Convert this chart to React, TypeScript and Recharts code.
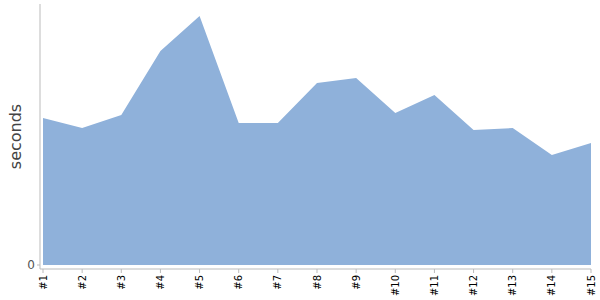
import React from 'react';
import { AreaChart, Area, XAxis, YAxis } from 'recharts';

const RUNS = ['#1', '#2', '#3', '#4', '#5', '#6', '#7', '#8', '#9', '#10', '#11', '#12', '#13', '#14', '#15'];
const SECONDS = [147, 137, 150, 214, 249, 142, 142, 182, 187, 152, 170, 135, 137, 110, 122];
const Y_TICKS = [0];

const data = RUNS.map((run, i) => ({ run, seconds: SECONDS[i] }));

const RunTick = ({ x, y, payload }: any) => (
  <g transform={`translate(${x},${y})`}>
    <text
      transform="rotate(-90)"
      textAnchor="end"
      dy="0.35em"
      fontSize={10}
      fill="#000"
      fontFamily="DejaVu Sans, sans-serif"
    >
      {payload.value}
    </text>
  </g>
);

export default function App() {
  return (
    <div style={{ position: 'absolute', left: 0, top: 0, width: 600, height: 300, background: '#fff' }}>
      <AreaChart
        width={600}
        height={300}
        data={data}
        margin={{ top: 4, right: 9, left: 0, bottom: 0 }}
      >
        <XAxis
          dataKey="run"
          interval={0}
          height={31}
          padding={{ left: 3, right: 0 }}
          tickSize={4}
          tickMargin={2}
          stroke="#bbb"
          tick={<RunTick />}
        />
        <YAxis
          width={40}
          domain={[-4, 261]}
          ticks={Y_TICKS}
          tickSize={3}
          stroke="#bbb"
          tick={{ fill: '#555', fontSize: 12, fontFamily: 'DejaVu Sans, sans-serif' }}
          label={{
            value: 'seconds',
            angle: -90,
            position: 'insideLeft',
            offset: 15,
            fill: '#444',
            fontSize: 16,
            fontFamily: 'DejaVu Sans, sans-serif',
            style: { textAnchor: 'middle' },
          }}
        />
        <Area
          type="linear"
          dataKey="seconds"
          stroke="none"
          fill="#8fb1da"
          fillOpacity={1}
          baseValue={0}
          isAnimationActive={false}
        />
      </AreaChart>
    </div>
  );
}
